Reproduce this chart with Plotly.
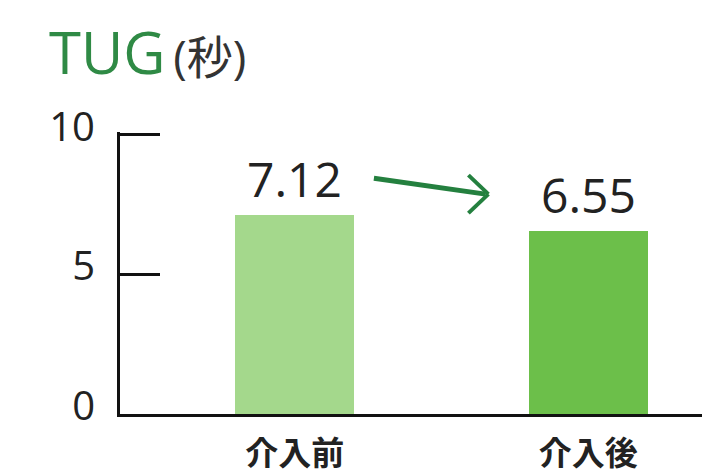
import plotly.graph_objects as go

# ---- data ----
categories = ["介入前", "介入後"]
tug_seconds = [7.12, 6.55]
value_labels = ["7.12", "6.55"]
bar_colors = ["#a4d88c", "#6cbf4a"]
y_tickvals = [0, 5, 10]
y_ticktext = ["0", "5", "10"]

# page body adds an ~8px offset, compensate in margins
OFF = 8
W, H = 710, 475
L, R, T, B = 120 - OFF, OFF, 132 - OFF, 61 + OFF
plot_h = H - T - B
y_top = 10.1
px_per_unit = plot_h / y_top

fig = go.Figure()
fig.add_trace(go.Bar(
    x=[0, 1], y=tug_seconds,
    marker=dict(color=bar_colors, line=dict(width=0)),
    width=0.405,
    hoverinfo="skip",
))

# value labels above bars
label_off = 37 / px_per_unit
for i, (v, t) in enumerate(zip(tug_seconds, value_labels)):
    fig.add_annotation(x=i, y=v, text=t, showarrow=False, yshift=37,
                       yanchor="middle", xanchor="center",
                       font=dict(family="Open Sans", size=48, color="#222222"))

# arrow between labels
y1 = tug_seconds[0] + label_off
y2 = tug_seconds[1] + label_off
x_start, x_tip = 0.27, 0.66
head_dx = 20 / 294
head_dy = 19 / px_per_unit
arrow_col = "#24803f"
fig.add_shape(type="line", x0=x_start, y0=y1, x1=x_tip - 0.01, y1=y2,
              line=dict(color=arrow_col, width=5))
fig.add_shape(type="line", x0=x_tip - head_dx, y0=y2 + head_dy, x1=x_tip, y1=y2,
              line=dict(color=arrow_col, width=4))
fig.add_shape(type="line", x0=x_tip - head_dx, y0=y2 - head_dy, x1=x_tip, y1=y2,
              line=dict(color=arrow_col, width=4))

# title
fig.add_annotation(
    xref="paper", yref="paper",
    x=(39 - L) / (W - L - R), y=(H - B - 43) / plot_h,
    xanchor="left", yanchor="middle", showarrow=False,
    text="<span style='color:#2f8a45'>TUG</span><span style='font-size:30px'>&nbsp;</span>"
         "<span style='font-size:46px;color:#333333'>(秒)</span>",
    font=dict(family="Open Sans, Noto Sans CJK JP", size=58, color="#2f8a45"),
)

fig.update_layout(
    width=W, height=H,
    margin=dict(l=L, r=R, t=T, b=B, pad=0, autoexpand=False),
    paper_bgcolor="white", plot_bgcolor="white",
    showlegend=False,
    bargap=0,
)
fig.update_xaxes(
    range=[-0.595, 1.415],
    tickvals=[0, 1], ticktext=categories,
    showline=True, linecolor="#111111", linewidth=3,
    showgrid=False, zeroline=False, ticks="",
    automargin=False,
    ticklabelstandoff=8,
    tickfont=dict(family="Noto Sans CJK JP", size=33, color="#222222", weight="bold"),
)
fig.update_yaxes(
    range=[0, y_top],
    tickvals=y_tickvals, ticktext=y_ticktext,
    showline=True, linecolor="#111111", linewidth=3,
    showgrid=False, zeroline=False,
    automargin=False,
    ticks="inside", ticklen=40, tickwidth=2.5, tickcolor="#111111",
    ticklabelstandoff=14, ticklabelshift=-8,
    tickfont=dict(family="Open Sans", size=40, color="#222222"),
)

fig.write_html("out.html")
